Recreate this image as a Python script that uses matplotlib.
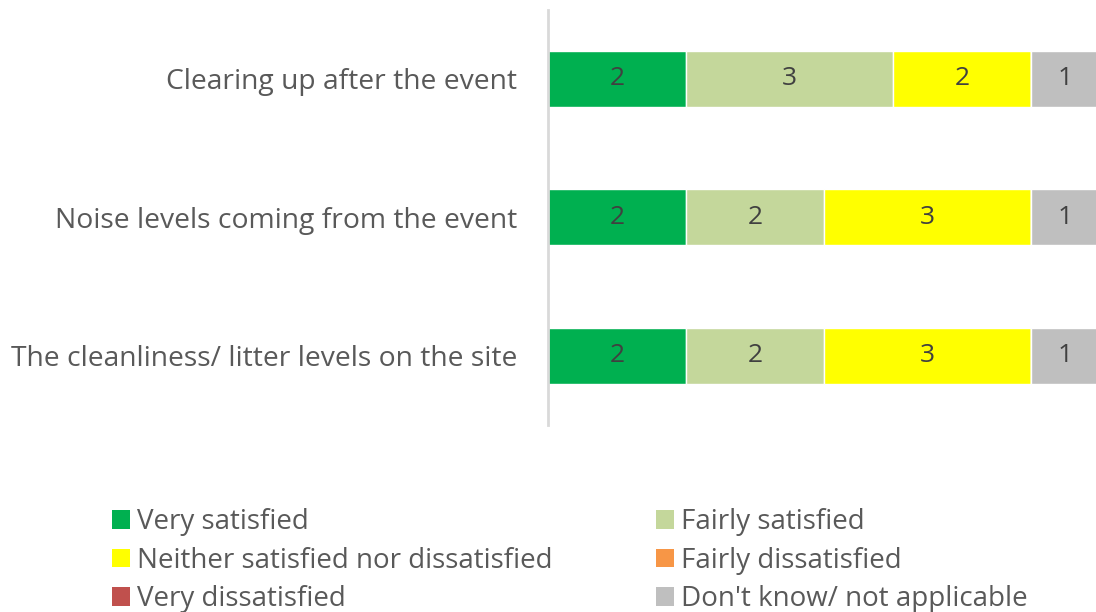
import matplotlib
matplotlib.use("Agg")
import matplotlib.pyplot as plt
from matplotlib.patches import Patch

categories = ["Clearing up after the event",
              "Noise levels coming from the event",
              "The cleanliness/ litter levels on the site"]
series_names = ["Very satisfied", "Fairly satisfied",
                "Neither satisfied nor dissatisfied", "Fairly dissatisfied",
                "Very dissatisfied", "Don't know/ not applicable"]
very_satisfied = [2, 2, 2]
fairly_satisfied = [3, 2, 2]
neither = [2, 3, 3]
fairly_dissatisfied = [0, 0, 0]
very_dissatisfied = [0, 0, 0]
dont_know = [1, 1, 1]
series_values = [very_satisfied, fairly_satisfied, neither,
                 fairly_dissatisfied, very_dissatisfied, dont_know]
colors = ["#00B050", "#C4D79B", "#FFFF00", "#F79646", "#C0504D", "#BFBFBF"]

plt.rcParams['font.family'] = ['Open Sans', 'DejaVu Sans']

fig = plt.figure(figsize=(10.96, 6.12), dpi=100)
W, H = 1096, 612
ax = fig.add_axes([548 / W, 1 - 425 / H, (1100 - 548) / W, 415.5 / H])

y = list(range(len(categories)))
left = [0] * len(categories)
handles = []
for name, vals, c in zip(series_names, series_values, colors):
    ax.barh(y, vals, left=left, height=0.405, color=c,
            edgecolor="white", linewidth=1, label=name)
    for yi, v, l in zip(y, vals, left):
        if v > 0:
            ax.text(l + v / 2, yi, str(v), ha="center", va="center",
                    fontsize=19, color="#404040")
    left = [a + b for a, b in zip(left, vals)]
    handles.append(Patch(facecolor=c, edgecolor="none", label=name))

ax.set_xlim(0, 8)
ax.set_ylim(2.5, -0.5)
ax.set_yticks(y)
ax.set_yticklabels(categories, fontsize=20.3, color="#595959")
ax.tick_params(axis="y", length=0, pad=22)
ax.set_xticks([])
for s in ["top", "right", "bottom"]:
    ax.spines[s].set_visible(False)
ax.spines["left"].set_color("#D9D9D9")
ax.spines["left"].set_linewidth(2)

order = [0, 2, 4, 1, 3, 5]
leg = fig.legend([handles[i] for i in order], [series_names[i] for i in order],
                 ncol=2, loc="upper left", bbox_to_anchor=(101 / W, 1 - 497 / H),
                 borderaxespad=0, frameon=False, fontsize=20, labelcolor="#595959",
                 handlelength=0.65, handleheight=0.65, handletextpad=0.25,
                 columnspacing=3.72, labelspacing=0.38)

fig.savefig("out.png", dpi=100)
